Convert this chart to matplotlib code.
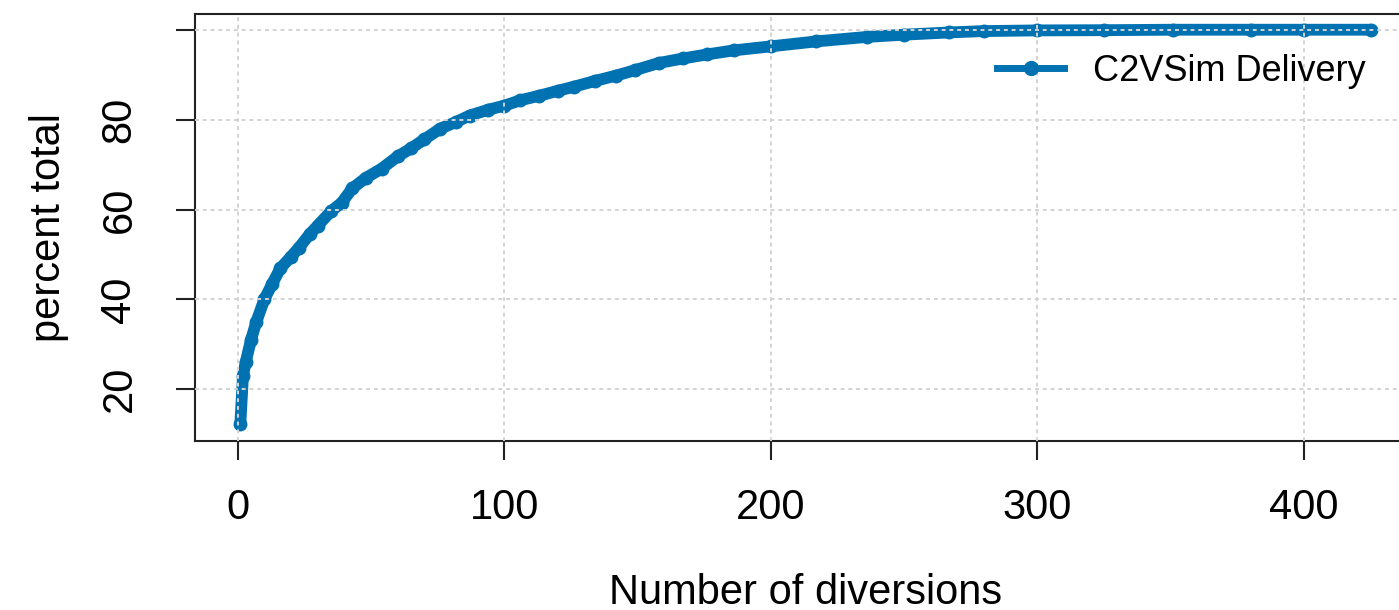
import matplotlib
matplotlib.use('Agg')
import matplotlib.pyplot as plt
from matplotlib.lines import Line2D

# cumulative share of delivery
n_div = [1, 2, 3, 5, 7, 10, 13, 16, 20, 23, 27, 30, 35, 39, 43, 48, 54, 60,
         65, 70, 76, 82, 87, 94, 100, 106, 113, 120, 126, 134, 142, 149, 158,
         167, 176, 186, 200, 217, 236, 250, 267, 280, 300, 325, 351, 380, 400, 425]
pct = [12.3, 23.0, 26.0, 31.0, 35.0, 40.0, 43.5, 46.9, 49.5, 51.5, 54.5, 56.4,
       59.6, 61.5, 64.7, 67.0, 69.1, 71.8, 73.6, 75.6, 78.0, 79.5, 80.9, 82.2,
       83.1, 84.3, 85.3, 86.4, 87.3, 88.6, 89.8, 91.0, 92.6, 93.6, 94.5, 95.4,
       96.3, 97.4, 98.4, 98.9, 99.4, 99.7, 99.85, 99.9, 100.0, 100.0, 100.0, 100.0]
xticks = [0, 100, 200, 300, 400]
yticks = [20, 40, 60, 80, 100]
ytick_labels = ['20', '40', '60', '80', '']
series_name = 'C2VSim Delivery'

blue = '#0072B2'
plt.rcParams['font.family'] = ['Liberation Sans', 'DejaVu Sans']

fig = plt.figure(figsize=(13.99, 6.10), dpi=100)
ax = fig.add_axes([195 / 1399, 1 - 441 / 610, 1221 / 1399, 427 / 610])

ax.plot(n_div, pct, color=blue, lw=8.5, marker='o', ms=9, solid_capstyle='round',
        solid_joinstyle='round', zorder=1)

ax.set_xlim(-16, 442)
ax.set_ylim(8.5, 103.5)
ax.set_xticks(xticks)
ax.set_yticks(yticks)
ax.set_yticklabels(ytick_labels)
ax.grid(True, color='#D3D3D3', lw=1.4, linestyle=(0, (2, 2)))
ax.set_axisbelow(False)

for s in ax.spines.values():
    s.set_linewidth(1.5)
    s.set_color('#222222')
ax.tick_params(axis='both', length=14, width=1.5, color='#222222', labelsize=30)
ax.tick_params(axis='x', pad=20)
ax.tick_params(axis='y', pad=26)
plt.setp(ax.get_yticklabels(), rotation=90, va='center')

ax.set_xlabel('Number of diversions', fontsize=30, labelpad=32)
ax.set_ylabel('percent total', fontsize=30, labelpad=22)

handle = Line2D([], [], color=blue, lw=5, marker='o', ms=10)
ax.legend([handle], [series_name], loc='center left', bbox_to_anchor=(0.657, 0.866),
          frameon=False, fontsize=26, handlelength=1.85, handletextpad=0.8,
          borderpad=0, borderaxespad=0)

fig.savefig('out.png', dpi=100)
